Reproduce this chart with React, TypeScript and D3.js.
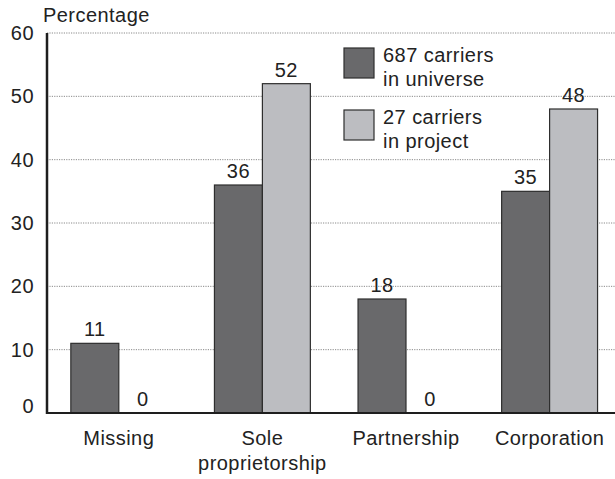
import React from "react";
import * as d3 from "d3";

const categories: string[][] = [["Missing"], ["Sole", "proprietorship"], ["Partnership"], ["Corporation"]];
const seriesNames: string[][] = [["687 carriers", "in universe"], ["27 carriers", "in project"]];
const universeValues: number[] = [11, 36, 18, 35];
const projectValues: number[] = [0, 52, 0, 48];
const yTicks: number[] = [0, 10, 20, 30, 40, 50, 60];
const yTitle = "Percentage";

const W = 615;
const H = 479;
const colors = ["#69696b", "#bcbdc1"];
const FONT = "'Liberation Sans', Arial, Helvetica, sans-serif";
const TXT = "#222";

export default function App() {
  const x0 = 47;
  const y = d3.scaleLinear().domain([0, 60]).range([413, 33]);
  const x = d3
    .scaleBand<number>()
    .domain(d3.range(categories.length))
    .range([x0, x0 + 4 * 143.6])
    .paddingInner(0.332)
    .paddingOuter(0.166);
  const sub = d3.scaleBand<number>().domain([0, 1]).range([0, x.bandwidth()]);
  const series = [universeValues, projectValues];

  return (
    <svg
      width={W}
      height={H}
      style={{ position: "absolute", left: 0, top: 0, background: "#fff" }}
      fontFamily={FONT}
      letterSpacing={0.45}
    >
      <rect x={0} y={0} width={W} height={H} fill="#fff" />
      {/* gridlines */}
      {yTicks.filter((t) => t > 0).map((t) => (
        <line key={"g" + t} x1={x0} x2={W} y1={y(t)} y2={y(t)} stroke="#8a8a8a" strokeWidth={1} strokeDasharray="1.2,1.2" />
      ))}
      {/* y tick labels */}
      {yTicks.map((t) => (
        <text key={"t" + t} x={34} y={Math.min(y(t) + 7, 413)} textAnchor="end" fontSize={20} fill={TXT}>
          {t}
        </text>
      ))}
      <text x={43} y={22} fontSize={20} fill={TXT}>{yTitle}</text>
      {/* bars */}
      {categories.map((c, i) => (
        <g key={"c" + i} transform={`translate(${x(i)},0)`}>
          {series.map((vals, s) => {
            const v = vals[i];
            const bx = sub(s)!;
            const bw = sub.bandwidth();
            return (
              <g key={s}>
                {v > 0 && (
                  <rect x={bx} y={y(v)} width={bw} height={y(0) - y(v)} fill={colors[s]} stroke="#2e2e2e" strokeWidth={1.2} />
                )}
                <text x={bx + bw / 2} y={y(v) - 7} textAnchor="middle" fontSize={20} fill={TXT}>
                  {v}
                </text>
              </g>
            );
          })}
          {c.map((line, li) => (
            <text key={li} x={x.bandwidth() / 2} y={445 + li * 25} textAnchor="middle" fontSize={20} fill={TXT}>
              {line}
            </text>
          ))}
        </g>
      ))}
      {/* axes */}
      <line x1={x0} x2={x0} y1={y(60)} y2={y(0) + 1} stroke="#1e1e1e" strokeWidth={2.5} />
      <line x1={x0 - 1} x2={W} y1={y(0)} y2={y(0)} stroke="#1e1e1e" strokeWidth={2.2} />
      {/* legend */}
      {seriesNames.map((lines, s) => (
        <g key={"l" + s} transform={`translate(344,${48 + s * 62})`}>
          <rect x={0} y={0} width={30} height={30} fill={colors[s]} stroke="#2e2e2e" strokeWidth={1.2} />
          {lines.map((ln, li) => (
            <text key={li} x={39} y={14 + li * 24} fontSize={20} fill={TXT}>
              {ln}
            </text>
          ))}
        </g>
      ))}
    </svg>
  );
}
